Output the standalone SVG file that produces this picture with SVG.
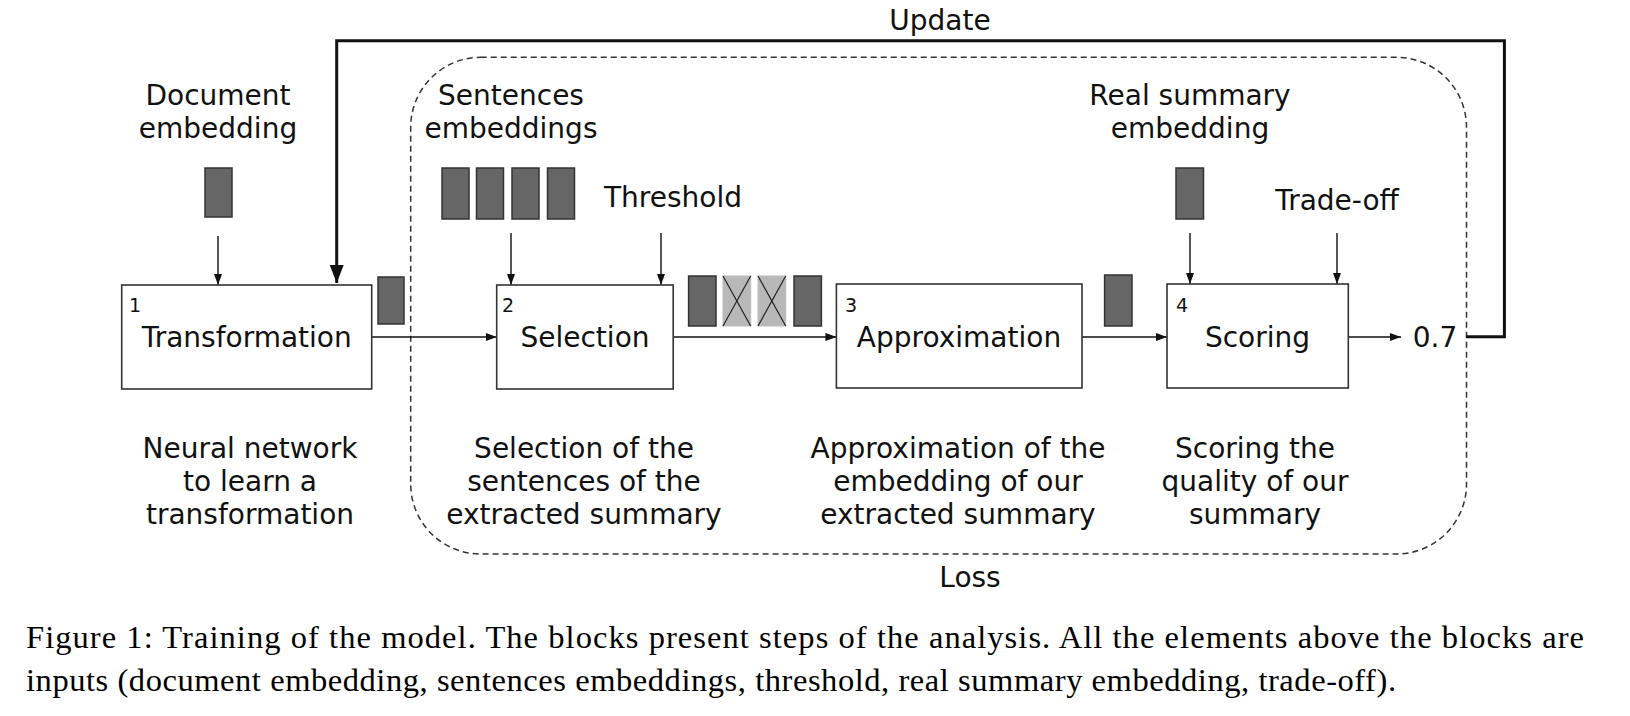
<svg xmlns="http://www.w3.org/2000/svg" width="1630" height="716" viewBox="0 0 1630 716">
<defs>
<style>
.t{font-family:"DejaVu Sans",sans-serif;font-size:28px;fill:#111;text-anchor:middle}
.n{font-family:"DejaVu Sans",sans-serif;font-size:19px;fill:#111}
.cap{font-family:"Liberation Serif",serif;font-size:32.5px;fill:#000}
.box{fill:#fff;stroke:#333;stroke-width:1.6}
.emb{fill:#666;stroke:#333;stroke-width:1.5}
.off{fill:#b8b8b8;stroke:#bbb;stroke-width:1}
.x{stroke:#222;stroke-width:1.2}
.c{fill:none;stroke:#111;stroke-width:1.4}
.u{fill:none;stroke:#111;stroke-width:3}
</style>
<marker id="a" markerUnits="userSpaceOnUse" markerWidth="11" markerHeight="8" refX="11" refY="4" orient="auto"><path d="M0,0 L11,4 L0,8 z" fill="#111"/></marker>
<marker id="b" markerUnits="userSpaceOnUse" markerWidth="18" markerHeight="14" refX="18" refY="7" orient="auto"><path d="M0,0 L18,7 L0,14 z" fill="#111"/></marker>
</defs>
<rect width="1630" height="716" fill="#fff"/>

<g id="loss-region">
<rect x="410.7" y="57.3" width="1055.8" height="496.7" rx="70" ry="70" fill="none" stroke="#333" stroke-width="1.5" stroke-dasharray="6,4"/>
<text class="t" x="970" y="587">Loss</text>
</g>

<g id="connectors">
<line class="c" x1="218" y1="236" x2="218" y2="285" marker-end="url(#a)"/>
<line class="c" x1="511" y1="233" x2="511" y2="285" marker-end="url(#a)"/>
<line class="c" x1="661" y1="233" x2="661" y2="285" marker-end="url(#a)"/>
<line class="c" x1="1190" y1="233" x2="1190" y2="284" marker-end="url(#a)"/>
<line class="c" x1="1337" y1="233" x2="1337" y2="284" marker-end="url(#a)"/>
<line class="c" x1="371.7" y1="337" x2="496.7" y2="337" marker-end="url(#a)"/>
<line class="c" x1="673.2" y1="337" x2="836.4" y2="337" marker-end="url(#a)"/>
<line class="c" x1="1082" y1="337" x2="1167" y2="337" marker-end="url(#a)"/>
<line class="c" x1="1348.3" y1="337" x2="1401" y2="337" marker-end="url(#a)"/>
<path class="u" d="M1466,336.7 H1504.4 V40.7 H336.7 V283" marker-end="url(#b)"/>
<text class="t" x="940" y="30">Update</text>
</g>

<g id="doc-embedding">
<text class="t" x="218" y="105">Document</text>
<text class="t" x="218" y="138">embedding</text>
<rect class="emb" x="205" y="168" width="27" height="49"/>
</g>

<g id="sent-embeddings">
<text class="t" x="511" y="105">Sentences</text>
<text class="t" x="511" y="138">embeddings</text>
<rect class="emb" x="442" y="168" width="27" height="51"/>
<rect class="emb" x="476.5" y="168" width="27" height="51"/>
<rect class="emb" x="512" y="168" width="27" height="51"/>
<rect class="emb" x="547.5" y="168" width="27" height="51"/>
</g>

<g id="threshold">
<text class="t" x="673" y="207">Threshold</text>
</g>

<g id="real-summary">
<text class="t" x="1190" y="105">Real summary</text>
<text class="t" x="1190" y="138">embedding</text>
<rect class="emb" x="1176" y="168" width="27.5" height="51"/>
</g>

<g id="tradeoff">
<text class="t" x="1337" y="210">Trade-off</text>
</g>

<g id="transformation">
<rect class="box" x="121.7" y="285" width="250" height="104"/>
<text class="n" x="129" y="312">1</text>
<text class="t" x="246.7" y="347">Transformation</text>
<rect class="emb" x="378" y="277" width="26" height="47"/>
<text class="t" x="250" y="458">Neural network</text>
<text class="t" x="250" y="491">to learn a</text>
<text class="t" x="250" y="524">transformation</text>
</g>

<g id="selection">
<rect class="box" x="496.7" y="285" width="176.5" height="104"/>
<text class="n" x="502" y="312">2</text>
<text class="t" x="585" y="347">Selection</text>
<rect class="emb" x="688.6" y="276" width="27.4" height="50"/>
<rect class="off" x="723" y="276" width="27.7" height="50"/>
<line class="x" x1="723" y1="276" x2="750.7" y2="326"/>
<line class="x" x1="750.7" y1="276" x2="723" y2="326"/>
<rect class="off" x="758" y="276" width="27.7" height="50"/>
<line class="x" x1="758" y1="276" x2="785.7" y2="326"/>
<line class="x" x1="785.7" y1="276" x2="758" y2="326"/>
<rect class="emb" x="794" y="276" width="27.4" height="50"/>
<text class="t" x="584" y="458">Selection of the</text>
<text class="t" x="584" y="491">sentences of the</text>
<text class="t" x="584" y="524">extracted summary</text>
</g>

<g id="approximation">
<rect class="box" x="836.4" y="284" width="245.6" height="104"/>
<text class="n" x="845" y="312">3</text>
<text class="t" x="959" y="347">Approximation</text>
<rect class="emb" x="1104.6" y="275" width="27.4" height="51"/>
<text class="t" x="958" y="458">Approximation of the</text>
<text class="t" x="958" y="491">embedding of our</text>
<text class="t" x="958" y="524">extracted summary</text>
</g>

<g id="scoring">
<rect class="box" x="1167" y="284" width="181.3" height="104"/>
<text class="n" x="1176" y="312">4</text>
<text class="t" x="1257.5" y="347">Scoring</text>
<text class="t" x="1255" y="458">Scoring the</text>
<text class="t" x="1255" y="491">quality of our</text>
<text class="t" x="1255" y="524">summary</text>
</g>

<g id="score-value">
<text class="t" x="1435" y="347">0.7</text>
</g>

<g id="caption">
<text class="cap" x="26" y="648" textLength="1558" lengthAdjust="spacing">Figure 1: Training of the model. The blocks present steps of the analysis.  All the elements above the blocks are</text>
<text class="cap" x="26" y="691" textLength="1370" lengthAdjust="spacing">inputs (document embedding, sentences embeddings, threshold, real summary embedding, trade-off).</text>
</g>
</svg>
